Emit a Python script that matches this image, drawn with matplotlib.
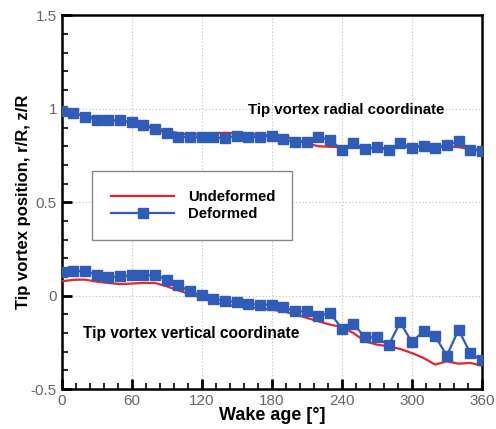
import numpy as np
import matplotlib
matplotlib.use("Agg")
import matplotlib.pyplot as plt
from matplotlib.ticker import MultipleLocator

# wake age, every 10 degrees
wake_age = np.arange(0, 361, 10)

# radial coordinate r/R
radial_undeformed = [0.991, 0.975, 0.963, 0.950, 0.941, 0.935, 0.929, 0.915, 0.897, 0.882,
                     0.870, 0.861, 0.865, 0.870, 0.872, 0.870, 0.866, 0.861, 0.857, 0.852,
                     0.838, 0.815, 0.800, 0.797, 0.795, 0.792, 0.790, 0.790, 0.790, 0.795,
                     0.799, 0.799, 0.799, 0.797, 0.795, 0.784, 0.781]
radial_deformed = [0.991, 0.977, 0.959, 0.941, 0.938, 0.938, 0.927, 0.911, 0.891, 0.870,
                   0.852, 0.847, 0.847, 0.847, 0.843, 0.857, 0.852, 0.848, 0.857, 0.838,
                   0.820, 0.825, 0.847, 0.834, 0.781, 0.816, 0.786, 0.795, 0.781, 0.816,
                   0.793, 0.802, 0.793, 0.804, 0.829, 0.781, 0.777]

# vertical coordinate z/R
vertical_undeformed = [0.077, 0.085, 0.086, 0.075, 0.068, 0.062, 0.065, 0.068, 0.068, 0.050,
                       0.028, 0.008, -0.012, -0.035, -0.048, -0.057, -0.062, -0.066, -0.075, -0.084,
                       -0.100, -0.119, -0.137, -0.155, -0.168, -0.200, -0.245, -0.262, -0.271, -0.285,
                       -0.307, -0.333, -0.369, -0.351, -0.364, -0.360, -0.374]
vertical_deformed = [0.125, 0.134, 0.130, 0.112, 0.100, 0.103, 0.109, 0.109, 0.109, 0.086,
                     0.055, 0.023, 0.002, -0.016, -0.027, -0.034, -0.043, -0.048, -0.048, -0.061,
                     -0.084, -0.084, -0.107, -0.093, -0.176, -0.152, -0.223, -0.223, -0.266, -0.143,
                     -0.248, -0.191, -0.217, -0.321, -0.182, -0.307, -0.346]

red = "#e8242c"
blue = "#2f5cb8"

plt.rcParams['font.family'] = ['Liberation Sans', 'DejaVu Sans']

fig = plt.figure(figsize=(4.96, 4.29), dpi=100)
ax = fig.add_axes([0.1245, 0.093, 0.847, 0.871])

ax.plot(wake_age, radial_undeformed, color=red, lw=1.6, label="Undeformed", zorder=3)
ax.plot(wake_age, vertical_undeformed, color=red, lw=1.6, zorder=3)
ax.plot(wake_age, radial_deformed, color=blue, lw=1.6, marker="s", ms=6.5,
        label="Deformed", zorder=4)
ax.plot(wake_age, vertical_deformed, color=blue, lw=1.6, marker="s", ms=6.5, zorder=4)

ax.set_xlim(0, 360)
ax.set_ylim(-0.5, 1.5)
ax.xaxis.set_major_locator(MultipleLocator(60))
ax.xaxis.set_minor_locator(MultipleLocator(12))
ax.yaxis.set_major_locator(MultipleLocator(0.5))
ax.yaxis.set_minor_locator(MultipleLocator(0.1))
ax.set_yticks([-0.5, 0, 0.5, 1, 1.5])
ax.set_yticklabels(["-0.5", "0", "0.5", "1", "1.5"])

ax.grid(True, which="major", color="#bbbbbb", ls=(0, (1, 2)), lw=0.8)
ax.tick_params(which="both", direction="in", top=False, right=False,
               labelsize=11, labelcolor="#666666", width=1.2)
ax.tick_params(which="major", length=7, width=2)
ax.tick_params(which="minor", length=4)
for s in ax.spines.values():
    s.set_linewidth(1.8)

ax.set_xlabel("Wake age [°]", fontsize=13, fontweight="bold", labelpad=-1)
ax.set_ylabel("Tip vortex position, r/R, z/R", fontsize=12, fontweight="bold", labelpad=0)

ax.text(0.443, 0.746, "Tip vortex radial coordinate", transform=ax.transAxes,
        fontsize=10.8, fontweight="bold", va="center")
ax.text(0.05, 0.15, "Tip vortex vertical coordinate", transform=ax.transAxes,
        fontsize=11.2, fontweight="bold", va="center")

leg = ax.legend(loc="center", bbox_to_anchor=(0.072, 0.399, 0.476, 0.185), mode="expand",
                fancybox=False, edgecolor="#888888", framealpha=1,
                prop={"weight": "bold", "size": 10.7}, handlelength=4.3,
                borderpad=1.25, labelspacing=0.2, handletextpad=0.9,
                borderaxespad=0)
leg.get_frame().set_linewidth(1.0)

fig.savefig("out.png", dpi=100)
